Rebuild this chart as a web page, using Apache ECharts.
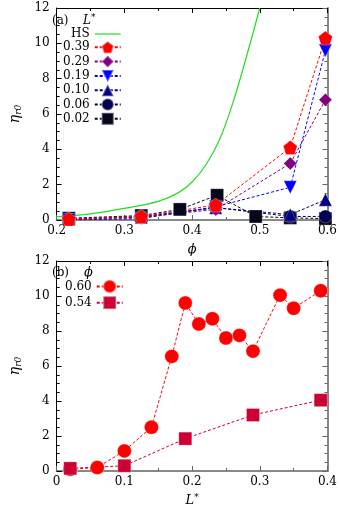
<!DOCTYPE html>
<html><head><meta charset="utf-8">
<script src="https://cdn.jsdelivr.net/npm/echarts@6/dist/echarts.min.js"></script>
<style>html,body{margin:0;padding:0;background:#fff}#c{width:340px;height:508px}</style>
</head><body><div id="c"></div>
<script>
// ---------- Panel (a): eta_r0 vs phi ----------
const phiA = [0.218, 0.325, 0.435, 0.545, 0.597];
const phiB = [0.218, 0.325, 0.382, 0.437, 0.494, 0.545, 0.597];
const eta039 = [0.05, 0.2, 0.85, 4.1, 10.3];
const eta029 = [0.03, 0.15, 0.6, 3.2, 6.8];
const eta019 = [0.0, 0.08, 0.75, 1.85, 9.6];
const eta010 = [0.05, 0.15, 0.7, 0.3, 1.15];
const eta006 = [0.05, 0.2, 0.7, 0.2, 0.2];
const eta002 = [0.1, 0.25, 0.6, 1.4, 0.2, 0.12, 0.08];
const hsPhi = [0.2, 0.25, 0.3, 0.35, 0.38, 0.4, 0.42, 0.44, 0.46, 0.48, 0.5];
const hsEta = [0.18, 0.35, 0.66, 1.05, 1.55, 2.15, 3.1, 4.5, 6.6, 9.2, 12.0];
const legendA = ['HS', '0.39', '0.29', '0.19', '0.10', '0.06', '0.02'];

// ---------- Panel (b): eta_r0 vs L* ----------
const L60 = [0.02, 0.06, 0.10, 0.14, 0.17, 0.19, 0.21, 0.23, 0.25, 0.27, 0.29, 0.33, 0.35, 0.39];
const eta60 = [0.1, 0.2, 1.15, 2.5, 6.55, 9.6, 8.4, 8.7, 7.6, 7.75, 6.85, 10.05, 9.3, 10.3];
const L54 = [0.02, 0.10, 0.19, 0.29, 0.39];
const eta54 = [0.15, 0.3, 1.85, 3.2, 4.05];
const legendB = ['0.60', '0.54'];

const FONT = 'DejaVu Serif';
const pentagon = 'path://M0,-10 L9.51,-3.09 L5.88,8.09 L-5.88,8.09 L-9.51,-3.09 Z';
const diamond = 'path://M0,-1 L1,0 L0,1 L-1,0 Z';
const downTri = 'path://M-1,-0.9 L1,-0.9 L0,0.9 Z';
const upTri = 'path://M-1,0.9 L1,0.9 L0,-0.9 Z';
const hsIcon = 'path://M0,0 L26,0 L26,1.2 L0,1.2 Z';

function pairs(xs, ys) { return xs.map((x, i) => [x, ys[i]]); }

function xAxes(g, min, max, name) {
  return [{
    gridIndex: g, type: 'value', min: min, max: max, interval: 0.1, position: 'bottom',
    axisLine: { onZero: false, lineStyle: { color: '#888', width: 2 } },
    axisTick: { inside: true, length: 5, lineStyle: { color: '#666' } },
    minorTick: { show: true, splitNumber: 2, length: 3, lineStyle: { color: '#666' } },
    axisLabel: { color: '#000', fontFamily: FONT, fontSize: 12, margin: 5, showMinLabel: true, showMaxLabel: true },
    splitLine: { show: false },
    name: name, nameLocation: 'middle', nameGap: g === 0 ? 23 : 22,
    nameTextStyle: { color: '#000', fontFamily: FONT, fontSize: 12,
      rich: { i: { fontFamily: FONT, fontStyle: 'italic', fontSize: 13 }, s: { fontFamily: FONT, fontSize: 9, verticalAlign: 'top', padding: [0, 0, 6, 0] } } }
  }, {
    gridIndex: g, type: 'value', min: min, max: max, interval: 0.1, position: 'top',
    axisLine: { onZero: false, lineStyle: { color: '#000', width: 1 } },
    axisTick: { inside: true, length: 5, lineStyle: { color: '#000' } },
    minorTick: { show: true, splitNumber: 2, length: 3, lineStyle: { color: '#000' } },
    axisLabel: { show: false }, splitLine: { show: false }
  }];
}
function yAxes(g) {
  return [{
    gridIndex: g, type: 'value', min: 0, max: 12, interval: 2, position: 'left',
    axisLine: { onZero: false, lineStyle: { color: '#000', width: 1 } },
    axisTick: { inside: true, length: 5, lineStyle: { color: '#000' } },
    minorTick: { show: true, splitNumber: 4, length: 3, lineStyle: { color: '#000' } },
    axisLabel: { color: '#000', fontFamily: FONT, fontSize: 12, margin: 7 },
    splitLine: { show: false },
    name: '{e|η}{s|r0}', nameLocation: 'middle', nameRotate: 90, nameGap: 31,
    nameTextStyle: { color: '#000', rich: {
      e: { fontFamily: FONT, fontStyle: 'italic', fontSize: 14, color: '#000' },
      s: { fontFamily: FONT, fontStyle: 'italic', fontSize: 9, color: '#000', padding: [8, 0, 0, 0] } } }
  }, {
    gridIndex: g, type: 'value', min: 0, max: 12, interval: 2, position: 'right',
    axisLine: { onZero: false, lineStyle: { color: '#888', width: 2 } },
    axisTick: { inside: true, length: 5, lineStyle: { color: '#666' } },
    minorTick: { show: true, splitNumber: 4, length: 3, lineStyle: { color: '#666' } },
    axisLabel: { show: false }, splitLine: { show: false }
  }];
}

function sym(name, xs, ys, color, symbol, size, xi, yi) {
  return {
    name: name, type: 'line', xAxisIndex: xi, yAxisIndex: yi,
    data: pairs(xs, ys), symbol: symbol, symbolSize: size, showSymbol: true,
    lineStyle: { color: color, width: 1, type: [3, 2] },
    itemStyle: { color: color, borderColor: 'rgba(255,255,255,0.35)', borderWidth: 0.8 },
    emphasis: { disabled: true }, animation: false, clip: true
  };
}

const xa = xAxes(0, 0.2, 0.6, '{i|ϕ}');
const xb = xAxes(1, 0, 0.4, '{i|L}{s|*}');
const ya = yAxes(0), yb = yAxes(1);

const series = [
  { name: 'HS', type: 'line', xAxisIndex: 0, yAxisIndex: 0, data: pairs(hsPhi, hsEta),
    symbol: 'none', smooth: 0.4, lineStyle: { color: '#22dd22', width: 1.2 }, itemStyle: { color: '#22dd22' },
    animation: false, clip: true, z: 1 },
  sym('0.02', phiB, eta002, '#06061c', 'rect', 13, 0, 0),
  sym('0.06', phiA, eta006, '#000050', 'circle', 13, 0, 0),
  sym('0.10', phiA, eta010, '#000080', upTri, 13, 0, 0),
  sym('0.19', phiA, eta019, '#0000ff', downTri, 13, 0, 0),
  sym('0.29', phiA, eta029, '#800080', diamond, 13, 0, 0),
  sym('0.39', phiA, eta039, '#ff0000', pentagon, 14, 0, 0),
  sym('0.60', L60, eta60, '#ff0000', 'circle', 14, 2, 2),
  sym('0.54', L54, eta54, '#cc0033', 'rect', 13, 2, 2)
];

const legendCommon = {
  orient: 'vertical', align: 'right', itemWidth: 26, padding: 0, selectedMode: false,
  textStyle: { fontFamily: FONT, fontSize: 12, color: '#000' }
};
const legendAData = legendA.map(n => n === 'HS' ? { name: n, icon: hsIcon } : n);

const chart = echarts.init(document.getElementById('c'), null, { renderer: 'canvas' });
chart.setOption({
  backgroundColor: '#fff',
  animation: false,
  grid: [
    { left: 45, top: 8, width: 283, height: 212 },
    { left: 45, top: 261, width: 283, height: 215 }
  ],
  xAxis: [xa[0], xa[1], xb[0], xb[1]],
  yAxis: [ya[0], ya[1], yb[0], yb[1]],
  legend: [
    Object.assign({}, legendCommon, { data: legendAData, left: 63, top: 28, itemHeight: 15, itemGap: 0.3 }),
    Object.assign({}, legendCommon, { data: legendB, left: 65, top: 279, itemHeight: 16, itemGap: 1.5 })
  ],
  graphic: [
    { type: 'text', left: 52, top: 15, style: { text: '(a)', font: '12px "DejaVu Serif"', fill: '#000' } },
    { type: 'text', left: 83, top: 15, style: { text: 'L', font: 'italic 12px "DejaVu Serif"', fill: '#000' } },
    { type: 'text', left: 91, top: 13, style: { text: '*', font: '9px "DejaVu Serif"', fill: '#000' } },
    { type: 'text', left: 52, top: 267, style: { text: '(b)', font: '12px "DejaVu Serif"', fill: '#000' } },
    { type: 'text', left: 84, top: 266, style: { text: 'ϕ', font: 'italic 13px "DejaVu Serif"', fill: '#000' } }
  ],
  series: series
});
</script>
</body></html>
